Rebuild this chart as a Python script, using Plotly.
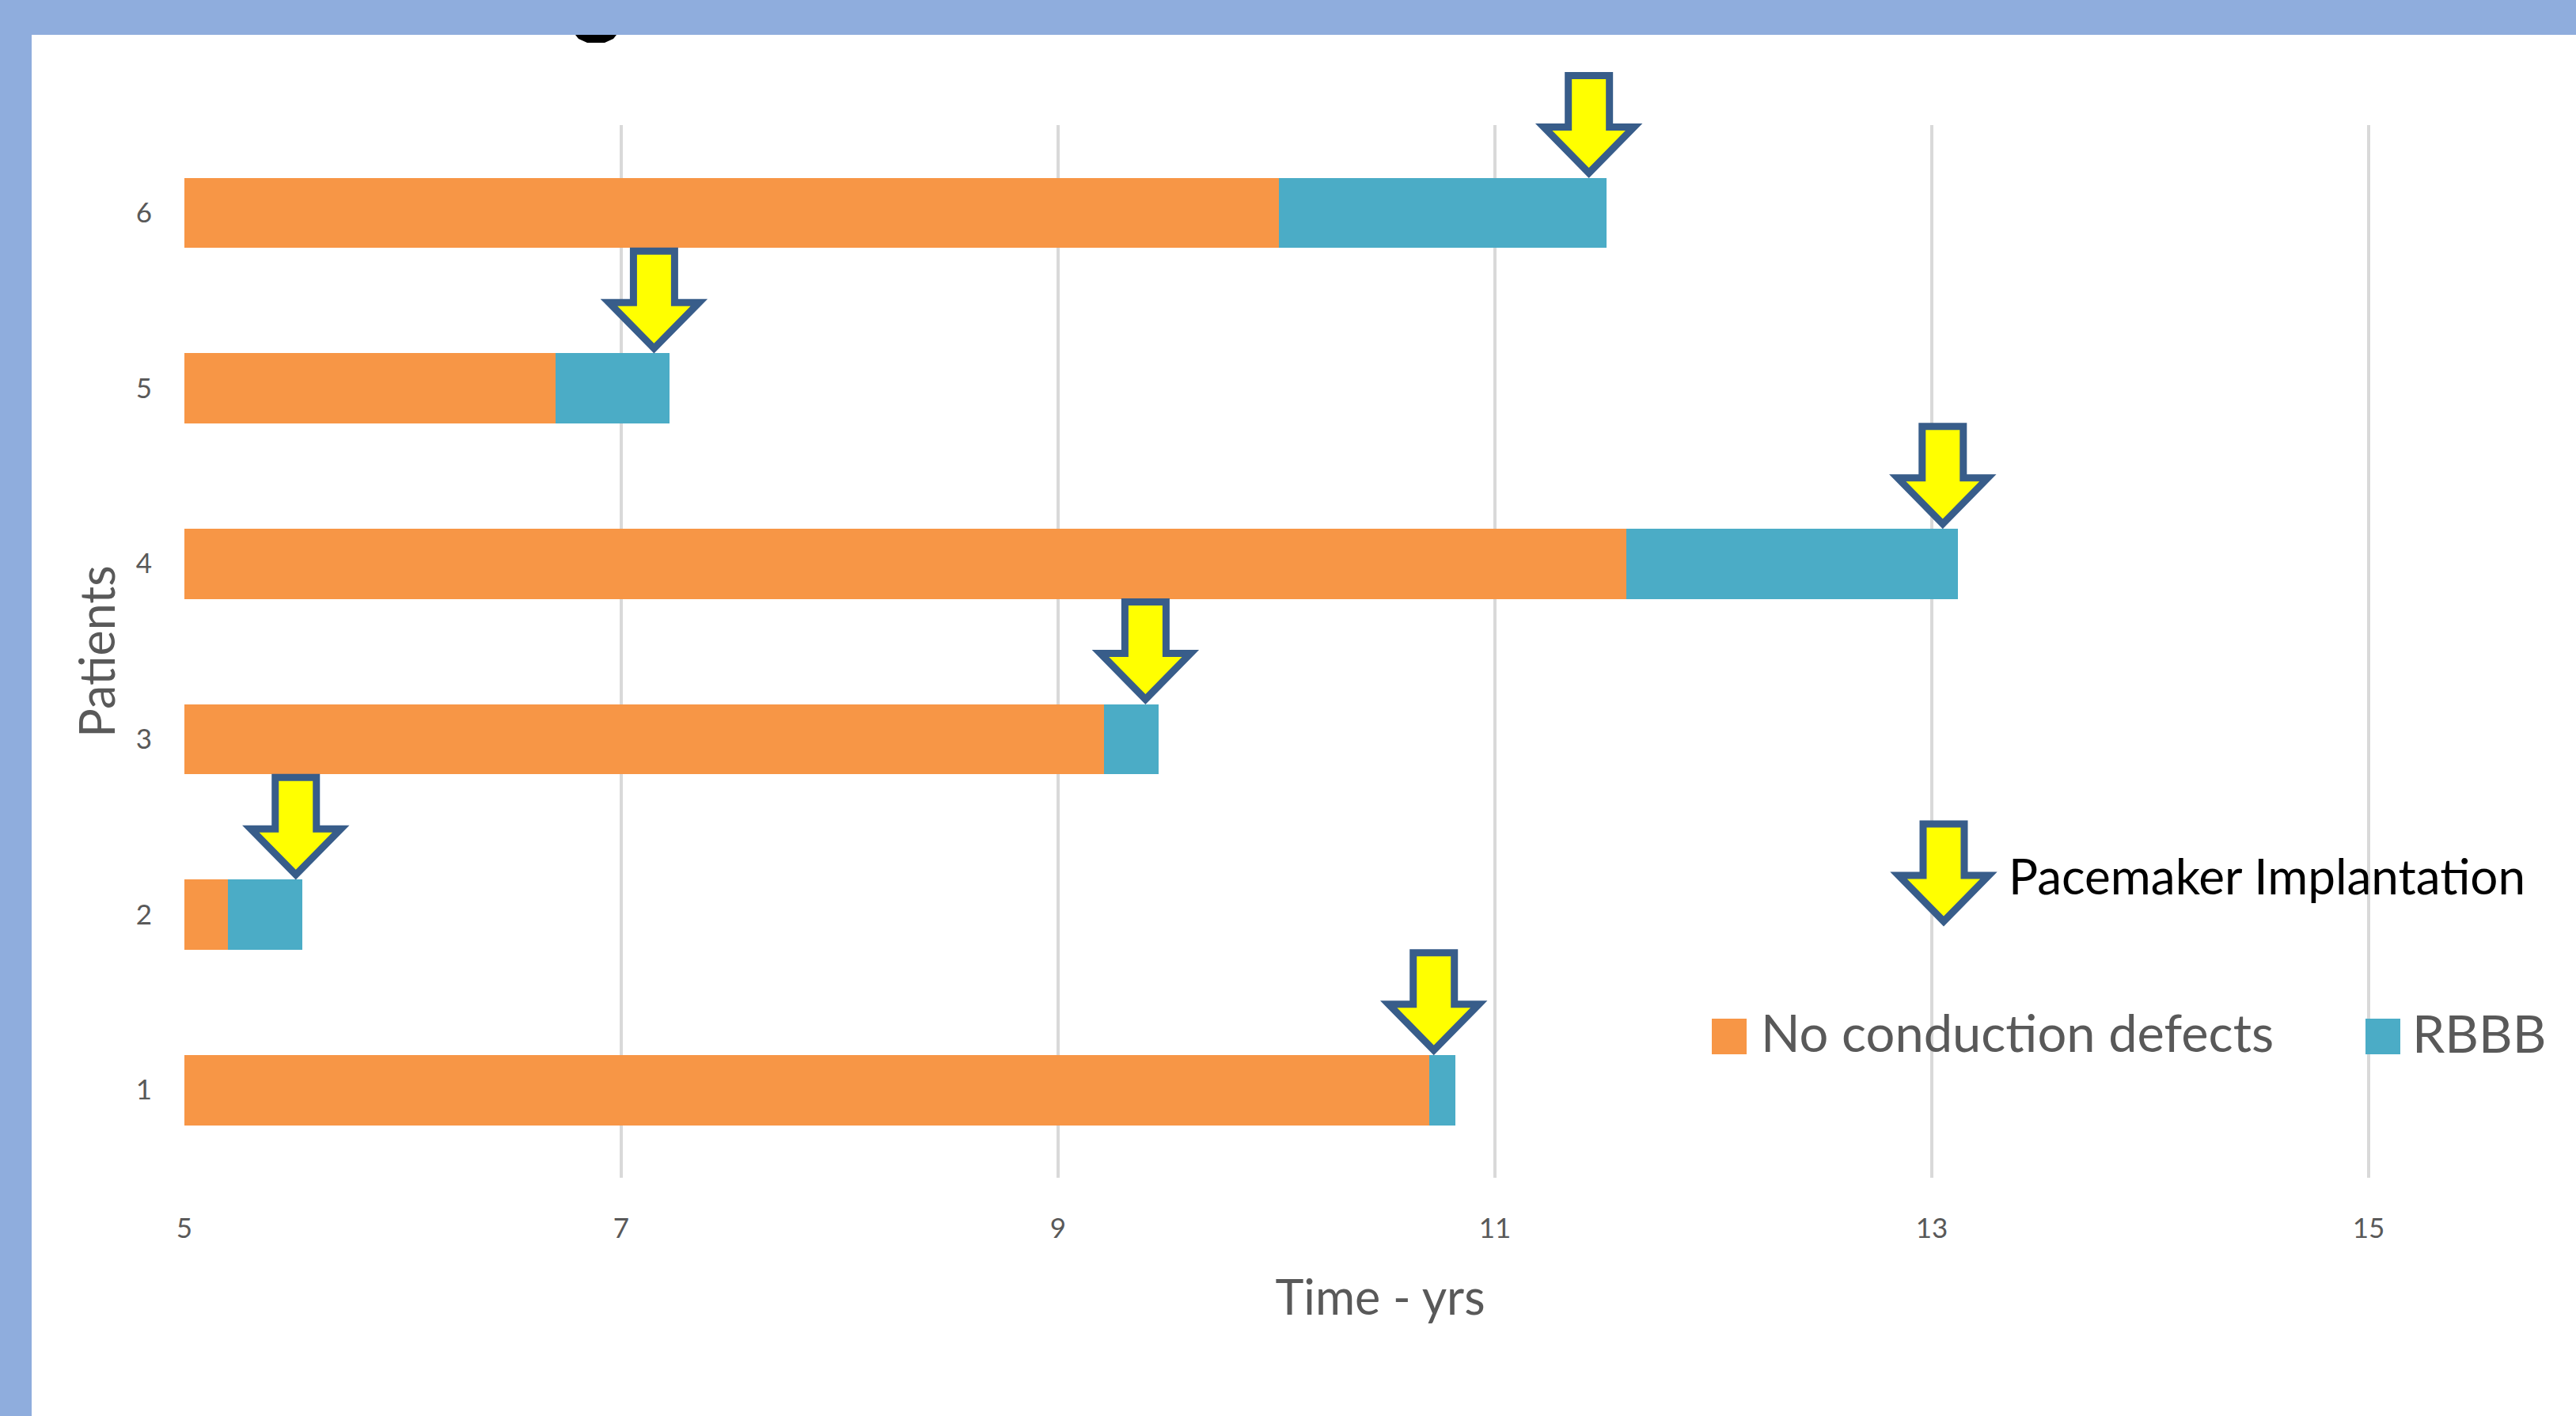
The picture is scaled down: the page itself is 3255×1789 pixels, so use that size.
import plotly.graph_objects as go

# ---- data ---------------------------------------------------------------
patients = [1, 2, 3, 4, 5, 6]
# years without conduction defects (bar from the axis origin)
no_conduction_defects = [10.70, 5.20, 9.21, 11.60, 6.70, 10.01]
# years spent with right bundle branch block after that
rbbb = [0.12, 0.34, 0.25, 1.52, 0.52, 1.50]
# time of pacemaker implantation (years)
pacemaker_time = [10.72, 5.51, 9.40, 13.05, 7.15, 11.43]
x_ticks = [5, 7, 9, 11, 13, 15]

# ---- styling ------------------------------------------------------------
W, H = 3255, 1789
L, R, T, B = 233, 0, 158, 301          # plot-area margins in px
ORANGE = "#F79646"
TEAL = "#4BACC6"
GRID = "#D9D9D9"
FRAME = "#8FADDD"
TXT = "#595959"
ARROW_FILL = "#FFFF00"
ARROW_LINE = "#385D8A"
FONT = "Lato, Carlito, Calibri, sans-serif"
BAR_W = 0.4
Y_RANGE = [0.5, 6.5]

plot_w = W - L - R
plot_h = H - T - B
px_per_year = 276.0
x_range = [5, 5 + plot_w / px_per_year]


def paper_x(pix):
    return (pix - L) / plot_w


def paper_y(pix):
    return (H - B - pix) / plot_h


def y_frac(v):
    # position along the y axis expressed as a fraction of the plot height
    return (v - Y_RANGE[0]) / (Y_RANGE[1] - Y_RANGE[0])


# down-pointing block arrow, tip at (0, 0), y measured upward in px
ARROW_PATH = "M0,6 L57,64 L26,64 L26,129 L-26,129 L-26,64 L-57,64 Z"

fig = go.Figure()
fig.add_trace(go.Bar(
    y=patients, x=no_conduction_defects, orientation="h",
    name="No conduction defects", marker=dict(color=ORANGE, line_width=0),
    width=BAR_W, showlegend=False, hoverinfo="skip",
))
fig.add_trace(go.Bar(
    y=patients, x=rbbb, orientation="h",
    name="RBBB", marker=dict(color=TEAL, line_width=0),
    width=BAR_W, showlegend=False, hoverinfo="skip",
))

shapes = []
# pacemaker arrows pointing at the top edge of each bar
for p, t in zip(patients, pacemaker_time):
    shapes.append(dict(
        type="path", xref="x", yref="paper",
        xsizemode="pixel", ysizemode="pixel",
        xanchor=t, yanchor=y_frac(p + BAR_W / 2),
        path=ARROW_PATH,
        fillcolor=ARROW_FILL, line=dict(color=ARROW_LINE, width=9),
        layer="above",
    ))

# legend arrow
shapes.append(dict(
    type="path", xref="paper", yref="paper",
    xsizemode="pixel", ysizemode="pixel",
    xanchor=paper_x(2456), yanchor=paper_y(1170),
    path=ARROW_PATH,
    fillcolor=ARROW_FILL, line=dict(color=ARROW_LINE, width=9),
))

# legend swatches
for x0, x1, c in [(2163, 2207, ORANGE), (2989, 3033, TEAL)]:
    shapes.append(dict(
        type="rect", xref="paper", yref="paper",
        x0=paper_x(x0), x1=paper_x(x1), y0=paper_y(1332), y1=paper_y(1287),
        fillcolor=c, line_width=0,
    ))

# frame bands
shapes.append(dict(type="rect", xref="paper", yref="paper",
                   x0=paper_x(0), x1=paper_x(W), y0=paper_y(44), y1=paper_y(0),
                   fillcolor=FRAME, line_width=0))
shapes.append(dict(type="rect", xref="paper", yref="paper",
                   x0=paper_x(0), x1=paper_x(40), y0=paper_y(H), y1=paper_y(0),
                   fillcolor=FRAME, line_width=0))
# small dark mark just under the top band
shapes.append(dict(
    type="path", xref="paper", yref="paper",
    xsizemode="pixel", ysizemode="pixel",
    xanchor=paper_x(753), yanchor=paper_y(44),
    path="M-26,0 L26,0 L22,-5 L11,-10 L-11,-10 L-22,-5 Z",
    fillcolor="#000000", line_width=0,
))

annotations = [
    dict(text="Pacemaker Implantation", xref="paper", yref="paper",
         x=paper_x(2536), y=paper_y(1106), xanchor="left", yanchor="middle",
         showarrow=False, font=dict(family=FONT, size=62, color="#000000")),
    dict(text="No conduction defects", xref="paper", yref="paper",
         x=paper_x(2223), y=paper_y(1304), xanchor="left", yanchor="middle",
         showarrow=False, font=dict(family=FONT, size=65, color=TXT)),
    dict(text="RBBB", xref="paper", yref="paper",
         x=paper_x(3046), y=paper_y(1304), xanchor="left", yanchor="middle",
         showarrow=False, font=dict(family=FONT, size=66, color=TXT)),
]

fig.update_layout(
    width=W, height=H,
    margin=dict(l=L, r=R, t=T, b=B, pad=0),
    paper_bgcolor="white", plot_bgcolor="white",
    barmode="stack",
    shapes=shapes, annotations=annotations,
    hovermode=False,
    xaxis=dict(
        range=x_range, tickvals=x_ticks, ticktext=[str(v) for v in x_ticks],
        showgrid=True, gridcolor=GRID, gridwidth=4,
        zeroline=False, showline=False, ticks="",
        ticklabelstandoff=40,
        tickfont=dict(family=FONT, size=35, color=TXT),
        title=dict(text="Time - yrs", standoff=48,
                   font=dict(family=FONT, size=61, color=TXT)),
    ),
    yaxis=dict(
        range=Y_RANGE, tickvals=patients, ticktext=[str(p) for p in patients],
        showgrid=False, zeroline=False, showline=False, ticks="",
        ticklabelstandoff=40,
        tickfont=dict(family=FONT, size=35, color=TXT),
        title=dict(text="Patients", standoff=6,
                   font=dict(family=FONT, size=61, color=TXT)),
    ),
)

fig.write_html("out.html")
